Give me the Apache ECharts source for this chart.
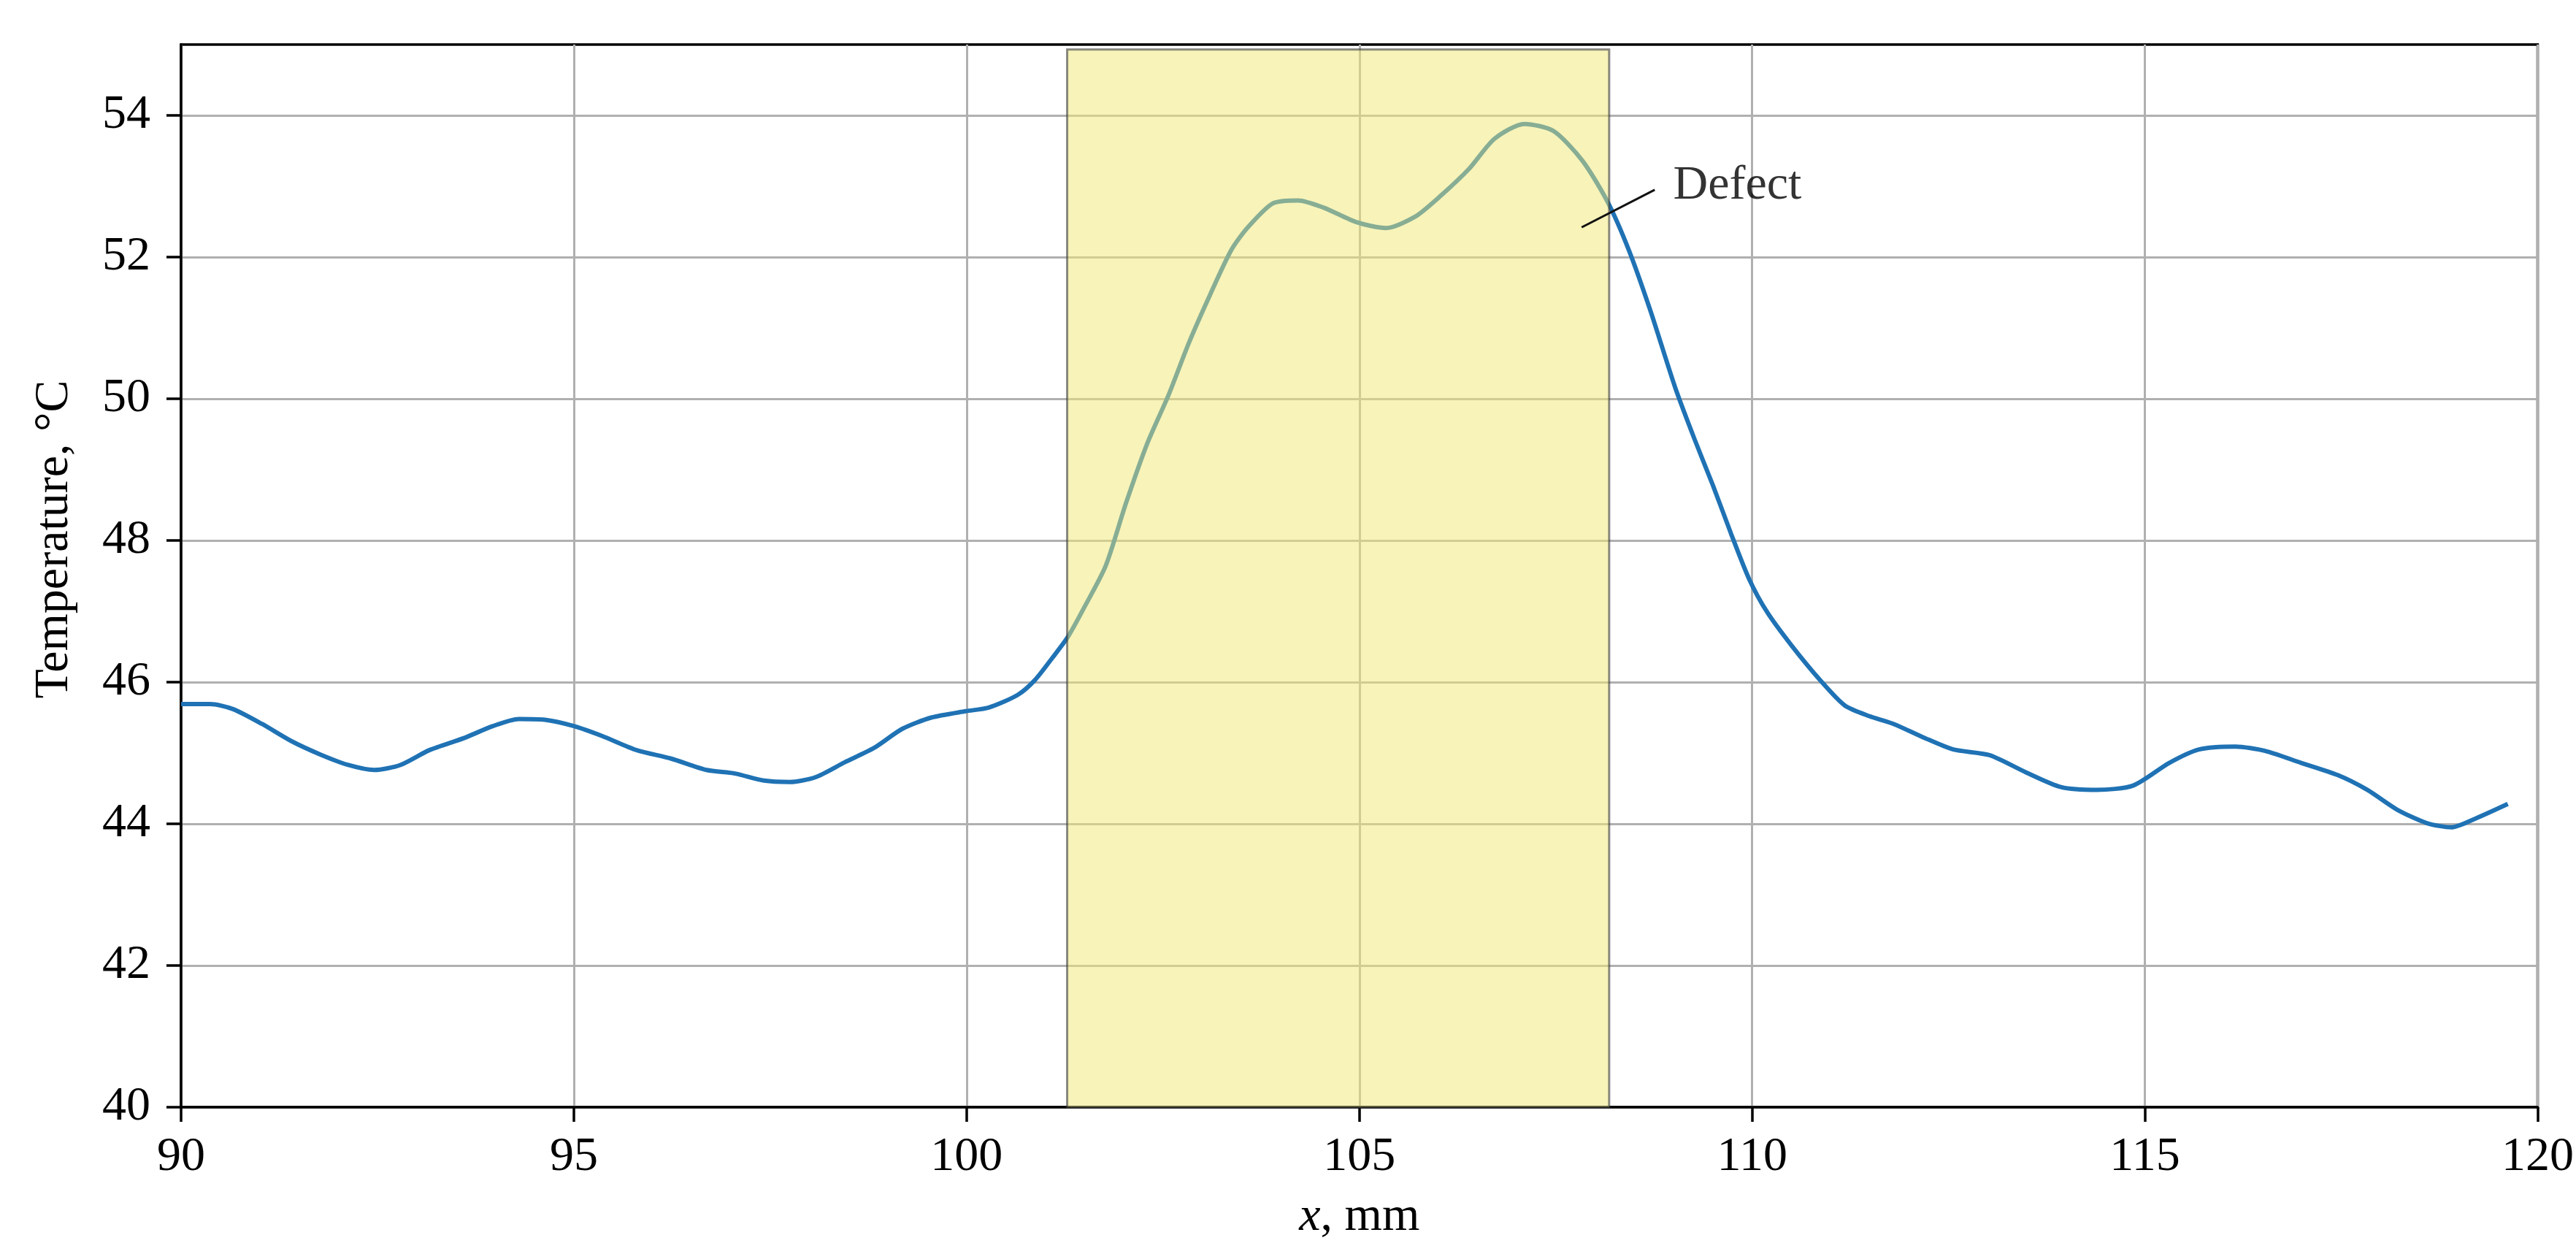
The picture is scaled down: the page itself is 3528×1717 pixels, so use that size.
<!DOCTYPE html>
<html>
<head>
<meta charset="utf-8">
<script src="https://cdn.jsdelivr.net/npm/echarts@6/dist/echarts.min.js"></script>
<style>
html,body{margin:0;padding:0;background:#fff;}
#chart{width:3528px;height:1717px;}
</style>
</head>
<body>
<div id="chart"></div>
<script>
// ---- data ----
const xPositions = [90.0, 90.37, 90.66, 91.03, 91.40, 91.77, 92.13, 92.46, 92.79, 93.16, 93.60, 93.97, 94.30, 94.63, 95.0, 95.36, 95.80, 96.24, 96.69, 97.05, 97.42, 97.75, 98.08, 98.45, 98.82, 99.18, 99.55, 99.99, 100.28, 100.65, 100.87, 101.09, 101.29, 101.50, 101.77, 102.03, 102.30, 102.57, 102.83, 103.10, 103.37, 103.58, 103.90, 104.22, 104.54, 104.97, 105.34, 105.71, 106.03, 106.40, 106.72, 107.10, 107.47, 107.84, 108.16, 108.43, 108.70, 109.02, 109.27, 109.50, 109.73, 109.96, 110.19, 110.50, 110.88, 111.18, 111.49, 111.80, 112.18, 112.56, 113.02, 113.48, 113.93, 114.39, 114.85, 115.31, 115.69, 116.15, 116.53, 116.99, 117.45, 117.83, 118.21, 118.59, 118.90, 119.20, 119.62];
const temperatures = [45.69, 45.69, 45.62, 45.41, 45.17, 44.98, 44.83, 44.76, 44.83, 45.04, 45.21, 45.38, 45.48, 45.47, 45.38, 45.24, 45.04, 44.92, 44.76, 44.71, 44.61, 44.59, 44.66, 44.87, 45.07, 45.34, 45.50, 45.59, 45.64, 45.82, 46.03, 46.34, 46.64, 47.06, 47.64, 48.53, 49.37, 50.05, 50.79, 51.47, 52.10, 52.42, 52.76, 52.80, 52.70, 52.49, 52.41, 52.57, 52.86, 53.25, 53.67, 53.88, 53.78, 53.36, 52.78, 52.10, 51.26, 50.16, 49.42, 48.78, 48.10, 47.46, 46.99, 46.52, 46.01, 45.67, 45.52, 45.41, 45.22, 45.05, 44.97, 44.73, 44.52, 44.48, 44.54, 44.86, 45.05, 45.09, 45.03, 44.86, 44.69, 44.48, 44.20, 44.01, 43.95, 44.07, 44.28];

const xTicks = [90, 95, 100, 105, 110, 115, 120];
const yTicks = [40, 42, 44, 46, 48, 50, 52, 54];

// defect region [xStart, xEnd] and its vertical extent [yBottom, yTop]
const defectX = [101.28, 108.18];
const defectY = [40, 54.93];

// annotation leader line (x, y pairs) and label anchor
const leaderX = [107.83, 108.76];
const leaderY = [52.42, 52.95];
const labelText = 'Defect';
const labelPos = [108.99, 53.0];

// ---- chart ----
const FONT = '"Liberation Serif", "Times New Roman", serif';
const lineData = xPositions.map((x, i) => [x, temperatures[i]]);
const leaderData = leaderX.map((x, i) => [x, leaderY[i]]);

const chart = echarts.init(document.getElementById('chart'), null, {renderer: 'canvas'});
chart.setOption({
  animation: false,
  backgroundColor: '#fff',
  grid: {
    left: 248, right: 50, top: 61, bottom: 201,
    show: true, borderColor: '#000', borderWidth: 3.5, backgroundColor: 'transparent'
  },
  xAxis: {
    type: 'value', min: xTicks[0], max: xTicks[xTicks.length - 1], interval: 5,
    name: '{i|x}, mm', nameLocation: 'middle', nameGap: 118,
    nameTextStyle: {
      fontFamily: FONT, fontSize: 66, color: '#000',
      rich: {i: {fontFamily: FONT, fontSize: 66, fontStyle: 'italic', color: '#000'}}
    },
    axisLine: {show: true, onZero: false, lineStyle: {color: '#000', width: 3.5}},
    axisTick: {show: true, inside: false, length: 20, lineStyle: {color: '#000', width: 3.5}},
    axisLabel: {fontFamily: FONT, fontSize: 66, color: '#000', margin: 36},
    splitLine: {show: true, lineStyle: {color: '#b0b0b0', width: 3}}
  },
  yAxis: {
    type: 'value', min: 40, max: 55, interval: 2,
    name: 'Temperature, °C', nameLocation: 'middle', nameGap: 140, nameRotate: 90,
    nameTextStyle: {fontFamily: FONT, fontSize: 66, color: '#000', padding: [0, 0, 0, 100]},
    axisLine: {show: true, onZero: false, lineStyle: {color: '#000', width: 3.5}},
    axisTick: {show: true, inside: false, length: 20, customValues: yTicks, lineStyle: {color: '#000', width: 3.5}},
    axisLabel: {fontFamily: FONT, fontSize: 66, color: '#000', margin: 42, customValues: yTicks},
    splitLine: {show: true, lineStyle: {color: '#b0b0b0', width: 3}}
  },
  series: [
    {
      name: 'Temperature', type: 'line', data: lineData, z: 2,
      showSymbol: false, symbol: 'none', smooth: 0.25,
      lineStyle: {color: '#1f72b4', width: 6}
    },
    {
      name: 'Defect region', type: 'custom', z: 3,
      data: [[defectX[0], defectY[0], defectX[1], defectY[1]]],
      renderItem: function (params, api) {
        const p0 = api.coord([api.value(0), api.value(3)]);
        const p1 = api.coord([api.value(2), api.value(1)]);
        return {
          type: 'rect',
          shape: {x: p0[0], y: p0[1], width: p1[0] - p0[0], height: p1[1] - p0[1]},
          style: {fill: 'rgba(239,231,115,0.5)', stroke: 'rgba(60,60,60,0.6)', lineWidth: 3}
        };
      },
      silent: true
    },
    {
      name: 'Leader', type: 'line', data: leaderData, z: 4,
      showSymbol: false, symbol: 'none',
      lineStyle: {color: '#111', width: 3}
    },
    {
      name: 'Label', type: 'scatter', data: [labelPos], z: 5, symbolSize: 1,
      itemStyle: {color: 'rgba(0,0,0,0)'},
      label: {
        show: true, position: 'right', distance: 0, formatter: labelText,
        fontFamily: FONT, fontSize: 66, color: '#000', align: 'left', verticalAlign: 'middle'
      }
    }
  ]
});
</script>
</body>
</html>
